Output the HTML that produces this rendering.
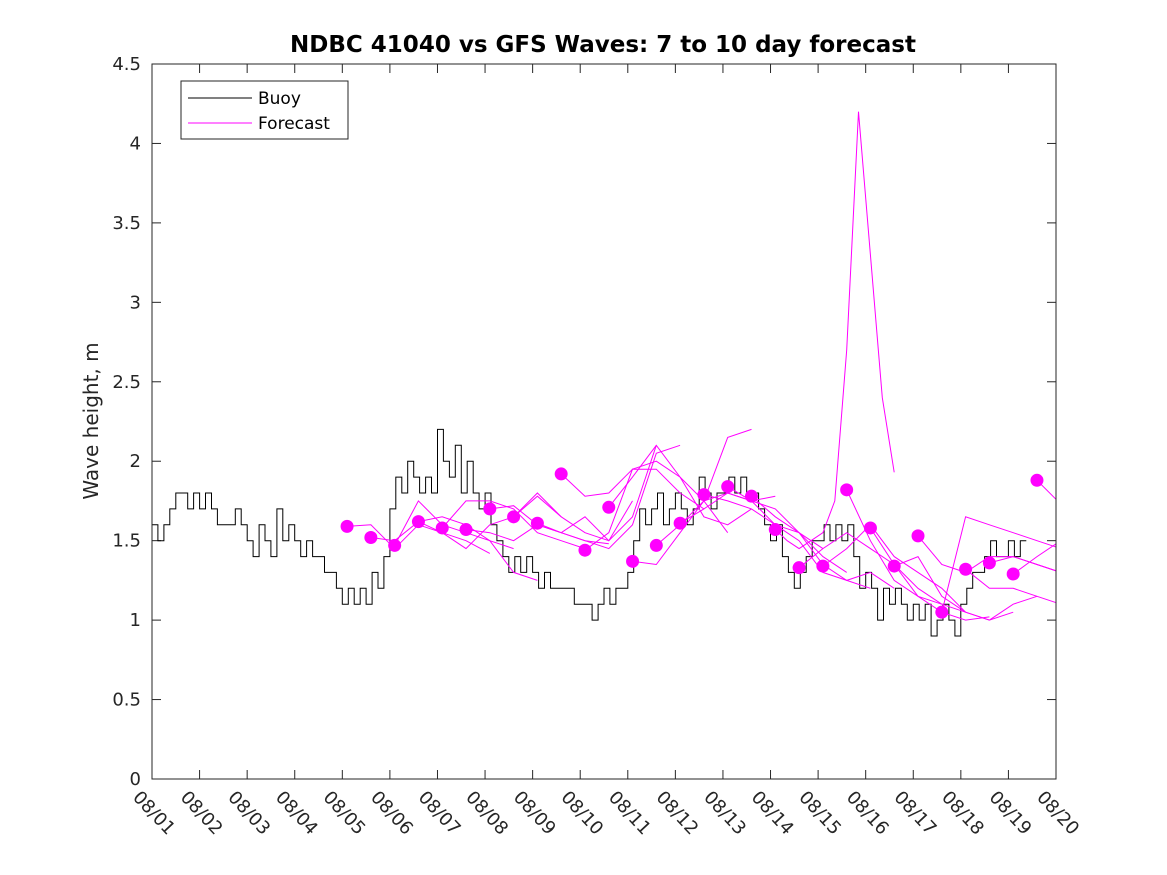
<!DOCTYPE html>
<html><head><meta charset="utf-8"><style>
html,body{margin:0;padding:0;background:#fff;}
svg{display:block;font-family:"DejaVu Sans","Liberation Sans",sans-serif;}
</style></head><body>
<svg id="chart" width="1167" height="875" viewBox="0 0 1167 875" xmlns="http://www.w3.org/2000/svg">
<rect width="1167" height="875" fill="#fff"/>
<text x="603" y="52" text-anchor="middle" font-size="23" font-weight="bold" fill="#000">NDBC 41040 vs GFS Waves: 7 to 10 day forecast</text>
<text transform="translate(98,421) rotate(-90)" text-anchor="middle" font-size="20" fill="#262626">Wave height, m</text>
<g id="axes"></g>
<g id="series"></g>
<rect x="152" y="64" width="904" height="715" fill="none" stroke="#262626" stroke-width="1"/>
<g>
<rect x="181" y="81" width="167" height="58" fill="#fff" stroke="#262626" stroke-width="1"/>
<line x1="188" y1="98" x2="252" y2="98" stroke="#000" stroke-width="1"/>
<text x="258" y="104" font-size="17" fill="#000">Buoy</text>
<line x1="188" y1="123" x2="252" y2="123" stroke="#ff00ff" stroke-width="1"/>
<text x="258" y="129" font-size="17" fill="#000">Forecast</text>
</g>
</svg>
<script>
const xTickLabels = ["08/01","08/02","08/03","08/04","08/05","08/06","08/07","08/08","08/09","08/10","08/11","08/12","08/13","08/14","08/15","08/16","08/17","08/18","08/19","08/20"];
const yTicks = [0,0.5,1,1.5,2,2.5,3,3.5,4,4.5];
const yTickLabels = ["0","0.5","1","1.5","2","2.5","3","3.5","4","4.5"];
// buoy observations every 3 hours starting 08/01 00:00
const buoyStep = 0.125;
const buoy = [
1.6,1.5,1.6,1.7,1.8,1.8,1.7,1.8,
1.7,1.8,1.7,1.6,1.6,1.6,1.7,1.6,
1.5,1.4,1.6,1.5,1.4,1.7,1.5,1.6,
1.5,1.4,1.5,1.4,1.4,1.3,1.3,1.2,
1.1,1.2,1.1,1.2,1.1,1.3,1.2,1.4,
1.7,1.9,1.8,2.0,1.9,1.8,1.9,1.8,
2.2,2.0,1.9,2.1,1.8,2.0,1.8,1.7,
1.8,1.6,1.5,1.4,1.3,1.4,1.3,1.4,
1.3,1.2,1.3,1.2,1.2,1.2,1.2,1.1,
1.1,1.1,1.0,1.1,1.2,1.1,1.2,1.2,
1.3,1.5,1.7,1.6,1.7,1.8,1.6,1.7,
1.8,1.7,1.6,1.7,1.9,1.8,1.7,1.8,
1.8,1.9,1.8,1.9,1.8,1.8,1.7,1.6,
1.5,1.6,1.4,1.3,1.2,1.3,1.4,1.5,
1.5,1.6,1.5,1.6,1.5,1.6,1.4,1.2,
1.3,1.2,1.0,1.2,1.1,1.2,1.1,1.0,
1.1,1.0,1.1,0.9,1.0,1.1,1.0,0.9,
1.1,1.2,1.3,1.3,1.4,1.5,1.4,1.4,
1.5,1.4,1.5];
// forecasts: start day (since 08/01), step in days, values
const fcStart = [4.1,4.6,5.1,5.6,6.1,6.6,7.1,7.6,8.1,8.6,9.1,9.6,10.1,10.6,11.1,11.6,12.1,12.6,13.1,13.6,14.1,14.6,15.1,15.6,16.1,16.6,17.1,17.6,18.1,18.6];
const fcStep = [0.5,0.5,0.5,0.5,0.5,0.5,0.5,0.5,0.5,0.5,0.5,0.5,0.5,0.5,0.5,0.5,0.5,0.5,0.25,0.5,0.5,0.5,0.5,0.5,0.5,0.5,0.5,0.5,0.5,0.5];
const fcValues = [
[1.59,1.6,1.45,1.6,1.55,1.5,1.42],
[1.52,1.5,1.62,1.65,1.6,1.5,1.45],
[1.47,1.75,1.6,1.55,1.5,1.3,1.25],
[1.62,1.55,1.45,1.6,1.65,1.8,1.65],
[1.58,1.75,1.75,1.7,1.55,1.5,1.45],
[1.57,1.55,1.5,1.6,1.55,1.5,1.48],
[1.70,1.72,1.6,1.55,1.65,1.5,1.75],
[1.65,1.78,1.65,1.55,1.5,1.65,2.1],
[1.61,1.55,1.5,1.45,1.6,2.05,2.1],
[1.92,1.78,1.8,1.95,1.95,1.8,1.7],
[1.44,1.55,1.95,2.0,1.9,1.75,1.55],
[1.71,1.9,2.1,1.9,1.65,1.6,1.7],
[1.37,1.35,1.55,1.75,1.8,1.75,1.78],
[1.47,1.6,1.75,2.15,2.2],
[1.61,1.7,1.8,1.75,1.7,1.55,1.45],
[1.79,1.75,1.7,1.6,1.55,1.4,1.3],
[1.84,1.75,1.6,1.5,1.3,1.25,1.2],
[1.78,1.65,1.55,1.35,1.25,1.3,1.2],
[1.57,1.5,1.45,1.5,1.55,1.75,2.7,4.2,3.3,2.4,1.93],
[1.33,1.45,1.55,1.45,1.35,1.15,1.1],
[1.34,1.45,1.6,1.4,1.3,1.2,1.05],
[1.82,1.5,1.25,1.15,1.05,1.0,1.02],
[1.58,1.35,1.2,1.1,1.05,1.0,1.05],
[1.34,1.4,1.15,1.05,1.0,1.1,1.15],
[1.53,1.35,1.3,1.4,1.4,1.35,1.3],
[1.05,1.65,1.6,1.55,1.5,1.45,1.38],
[1.32,1.2,1.2,1.15,1.1,1.05],
[1.36,1.4,1.35,1.3,1.25,1.2],
[1.29,1.4,1.5,1.62],
[1.88,1.73]];

const L=152,R=1056,T=64,B=779,DAYS=19,YMAX=4.5;
const xs=d=>L+(R-L)*d/DAYS;
const ys=v=>B-(B-T)*v/YMAX;
const NS="http://www.w3.org/2000/svg";
const axes=document.getElementById('axes');
const ser=document.getElementById('series');
function mk(tag,attrs,parent){const e=document.createElementNS(NS,tag);for(const k in attrs)e.setAttribute(k,attrs[k]);parent.appendChild(e);return e;}

yTicks.forEach((v,i)=>{
  const y=ys(v);
  const t1=mk('line',{x1:L,y1:y,x2:L+9,y2:y,stroke:'#262626'},axes);
  
  
  const t2=mk('line',{x1:R,y1:y,x2:R-9,y2:y,stroke:'#262626'},axes);
  
  
  const tx=mk('text',{x:141,y:y+6,'text-anchor':'end','font-size':18,fill:'#262626'},axes);
  tx.textContent=yTickLabels[i];
  
  
});
xTickLabels.forEach((lab,i)=>{
  const x=xs(i);
  const t1=mk('line',{x1:x,y1:B,x2:x,y2:B-9,stroke:'#262626'},axes);
  
  
  const t2=mk('line',{x1:x,y1:T,x2:x,y2:T+9,stroke:'#262626'},axes);
  
  
  const tx=mk('text',{transform:`translate(${x-20},${798}) rotate(47)`,'font-size':18,fill:'#262626'},axes);
  tx.textContent=lab;
  
  
});

mk('clipPath',{id:'clip'},ser);
mk('rect',{x:L,y:T,width:R-L,height:B-T},document.getElementById('clip'));

// buoy as staircase
let sp=[];
buoy.forEach((v,i)=>{
  const x0=xs(i*buoyStep), x1=xs((i+1)*buoyStep), y=ys(v);
  sp.push(`${x0.toFixed(1)},${y.toFixed(1)}`);
  sp.push(`${x1.toFixed(1)},${y.toFixed(1)}`);
});
const bl=mk('polyline',{points:sp.join(' '),fill:'none',stroke:'#000','stroke-width':1,'clip-path':'url(#clip)'},ser);



fcValues.forEach((vals,k)=>{
  const p=vals.map((v,j)=>`${xs(fcStart[k]+j*fcStep[k]).toFixed(1)},${ys(v).toFixed(1)}`).join(' ');
  const fl=mk('polyline',{points:p,fill:'none',stroke:'#ff00ff','stroke-width':1,'clip-path':'url(#clip)'},ser);
  
  
});
fcValues.forEach((vals,k)=>{
  const c=mk('circle',{cx:xs(fcStart[k]),cy:ys(vals[0]),r:6.5,fill:'#ff00ff'},ser);
  
  
});
</script>
</body></html>
